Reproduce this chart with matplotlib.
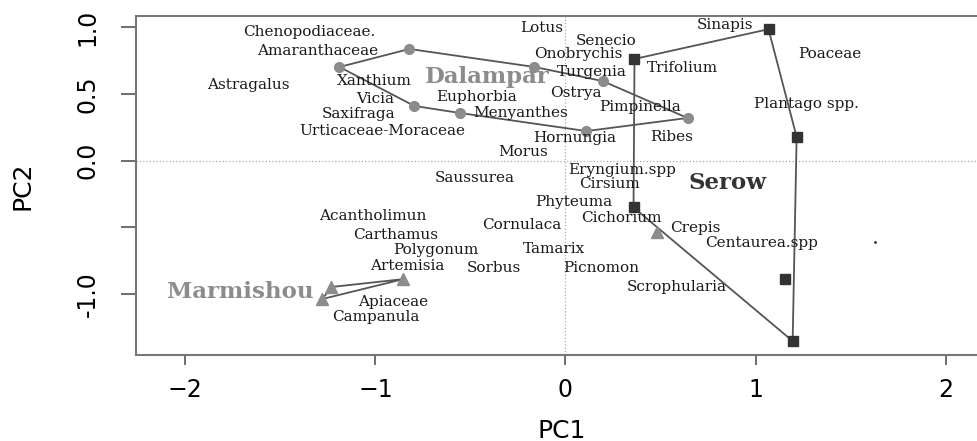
import matplotlib
matplotlib.use('Agg')
import matplotlib.pyplot as plt

# group scores (hull order)
dal_x = [-1.189, -0.821, -0.163, 0.195, 0.642, 0.110, -0.553, -0.795]
dal_y = [0.702, 0.837, 0.702, 0.597, 0.320, 0.222, 0.357, 0.410]

ser_x = [0.363, 1.068, 1.216, 1.195, 0.358]
ser_y = [0.762, 0.985, 0.178, -1.351, -0.350]
ser_in_x = [1.153]
ser_in_y = [-0.887]

mar_x = [-0.853, -1.232, -1.279]
mar_y = [-0.887, -0.946, -1.036]
mar_extra_x = [0.484]
mar_extra_y = [-0.535]

dot_x = [1.63]
dot_y = [-0.61]

groups = ['Dalampar', 'Serow', 'Marmishou']
group_x = [-0.41, 0.853, -1.71]
group_y = [0.627, -0.166, -0.985]

species = ['Chenopodiaceae.', 'Amaranthaceae', 'Astragalus', 'Xanthium', 'Vicia',
           'Saxifraga', 'Urticaceae-Moraceae', 'Euphorbia', 'Menyanthes', 'Lotus',
           'Senecio', 'Onobrychis', 'Turgenia', 'Trifolium', 'Ostrya', 'Pimpinella',
           'Hornungia', 'Ribes', 'Morus', 'Sinapis', 'Poaceae', 'Plantago spp.',
           'Eryngium.spp', 'Cirsium', 'Phyteuma', 'Saussurea', 'Cichorium', 'Crepis',
           'Centaurea.spp', 'Cornulaca', 'Tamarix', 'Picnomon', 'Sorbus',
           'Scrophularia', 'Acantholimun', 'Carthamus', 'Polygonum', 'Artemisia',
           'Apiaceae', 'Campanula']
sp_x = [-1.347, -1.305, -1.668, -1.005, -1.000, -1.090, -0.965, -0.468, -0.237, -0.126,
        0.216, 0.068, 0.137, 0.616, 0.053, 0.390, 0.047, 0.558, -0.221, 0.837,
        1.389, 1.268, 0.300, 0.232, 0.042, -0.479, 0.295, 0.684, 1.032, -0.232,
        -0.058, 0.189, -0.379, 0.584, -1.016, -0.895, -0.684, -0.832, -0.905, -1.000]
sp_y = [0.964, 0.822, 0.567, 0.597, 0.462, 0.350, 0.222, 0.477, 0.357, 0.993,
        0.899, 0.800, 0.665, 0.694, 0.507, 0.402, 0.170, 0.178, 0.065, 1.017,
        0.799, 0.424, -0.070, -0.175, -0.309, -0.130, -0.429, -0.504, -0.616, -0.482,
        -0.661, -0.804, -0.804, -0.946, -0.414, -0.557, -0.669, -0.789, -1.059, -1.170]

grey = '#8c8c8c'
dark = '#333333'
line_c = '#555555'

fig = plt.figure(figsize=(9.77, 4.41), dpi=100)
ax = fig.add_axes([0.1392, 0.195, 0.8708, 0.7687])

ax.axhline(0, color='#aaaaaa', lw=0.9, ls=':', zorder=0)
ax.axvline(0, color='#aaaaaa', lw=0.9, ls=':', zorder=0)

# hulls
ax.plot(dal_x + dal_x[:1], dal_y + dal_y[:1], color=line_c, lw=1.3, zorder=2)
ax.plot(ser_x + ser_x[:1], ser_y + ser_y[:1], color=line_c, lw=1.3, zorder=2)
ax.plot(mar_x + mar_x[:1], mar_y + mar_y[:1], color=line_c, lw=1.3, zorder=2)

ax.plot(dal_x, dal_y, 'o', color=grey, ms=7, zorder=3)
ax.plot(ser_x + ser_in_x, ser_y + ser_in_y, 's', color=dark, ms=6.5, zorder=3)
ax.plot(mar_x + mar_extra_x, mar_y + mar_extra_y, '^', color=grey, ms=9, zorder=3)
ax.plot(dot_x, dot_y, '.', color=dark, ms=2, zorder=3)

for name, x, y in zip(species, sp_x, sp_y):
    ax.text(x, y, name, ha='center', va='center', fontsize=11,
            family='DejaVu Serif', color='#1a1a1a', zorder=4)

group_cols = [grey, dark, grey]
for name, x, y, c in zip(groups, group_x, group_y, group_cols):
    ax.text(x, y, name, ha='center', va='center', fontsize=16.5, fontweight='bold',
            family='DejaVu Serif', color=c, zorder=4)

x0 = 565.5
sx = 190.1
y0 = 160.7
sy = 133.5
ax.set_xlim((136 - x0) / sx, (986.8 - x0) / sx)
ax.set_ylim((y0 - 355) / sy, (y0 - 16) / sy)

ax.set_xticks([-2, -1, 0, 1, 2])
ax.set_xticklabels(['\u22122', '\u22121', '0', '1', '2'])
ax.set_yticks([-1.0, -0.5, 0.0, 0.5, 1.0])
ax.set_yticklabels(['-1.0', '', '0.0', '0.5', '1.0'], rotation=90, va='center')

for lab in ax.get_xticklabels() + ax.get_yticklabels():
    lab.set_family('DejaVu Sans')
    lab.set_fontsize(17)

ax.tick_params(axis='x', length=7.5, width=1.2, color=line_c, pad=9)
ax.tick_params(axis='y', length=11, width=1.2, color=line_c, pad=15)
for s in ax.spines.values():
    s.set_color('#777777')
    s.set_linewidth(1.5)

ax.set_xlabel('PC1', family='DejaVu Sans', fontsize=18, labelpad=12)
ax.set_ylabel('PC2', family='DejaVu Sans', fontsize=18, labelpad=30)

fig.savefig('out.png', dpi=100)
